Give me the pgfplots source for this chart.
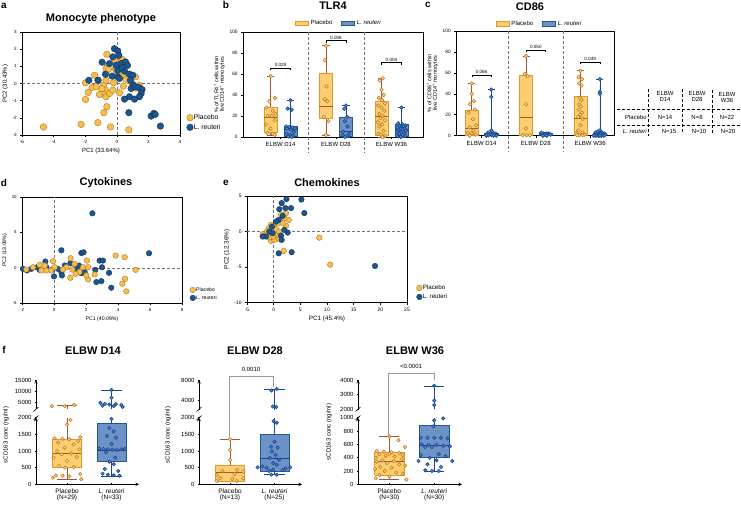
\documentclass[border=0pt]{standalone}
\usepackage{fontspec}
\setmainfont{Liberation Sans}
\usepackage{pgfplots}
\pgfplotsset{compat=1.18}
\usepgfplotslibrary{statistics}

\newcommand{\fs}[1]{\fontsize{#1}{#1}\selectfont}

% scatter colours
\definecolor{scO}{RGB}{247,190,75}
\definecolor{scOd}{RGB}{165,115,35}
\definecolor{scB}{RGB}{30,85,140}
\definecolor{scBd}{RGB}{15,45,85}
% box plot colours
\definecolor{pFill}{RGB}{252,206,112}
\definecolor{pEdge}{RGB}{226,152,48}
\definecolor{pWh}{RGB}{160,90,55}
\definecolor{pPt}{RGB}{200,122,25}
\definecolor{pPtF}{RGB}{253,222,150}
\definecolor{rFill}{RGB}{108,146,198}
\definecolor{rEdge}{RGB}{35,85,150}
\definecolor{rWh}{RGB}{25,70,150}
\definecolor{rPt}{RGB}{22,70,145}
\definecolor{rPtF}{RGB}{85,135,195}

\pgfplotsset{
  gp/.style={scale only axis, tick align=outside, tick pos=left,
    major tick length=1.8pt, axis line style={line width=0.55pt},
    every tick/.style={line width=0.55pt, black},
    /pgf/number format/assume math mode=true,
    /pgf/number format/1000 sep={},
    scaled y ticks=false, scaled x ticks=false,
    tick label style={font=\fs{4.6}}, label style={font=\fs{6}},
    xlabel style={inner sep=1pt}, ylabel style={inner sep=1pt}},
  pca/.style={gp, legend cell align=left,
    legend style={draw=none, fill=none, row sep=2pt,
      nodes={inner sep=0.6pt}}},
  zl/.style={densely dashed, black!55, line width=0.4pt, forget plot},
  dotP/.style={only marks, mark=*, mark size=#1, draw=scOd, fill=scO, line width=0.35pt},
  dotB/.style={only marks, mark=*, mark size=#1, draw=scBd, fill=scB, line width=0.35pt},
  pbx/.style={forget plot, draw=pEdge, fill=pFill, line width=0.6pt,
    boxplot/every whisker/.style={draw=pWh, line width=0.6pt},
    boxplot/every median/.style={draw=pWh, line width=0.6pt}},
  rbx/.style={forget plot, draw=rEdge, fill=rFill, line width=0.6pt,
    boxplot/every whisker/.style={draw=rWh, line width=0.6pt},
    boxplot/every median/.style={draw=rWh, line width=0.6pt}},
  pdot/.style={forget plot, only marks, mark=*, mark size=#1, draw=pPt, fill=pPtF, line width=0.6pt},
  rdot/.style={forget plot, only marks, mark=*, mark size=#1, draw=rPt, fill=rPtF, line width=0.6pt},
  pln/.style={forget plot, draw=pWh, line width=0.6pt, mark=none},
  rln/.style={forget plot, draw=rWh, line width=0.6pt, mark=none},
  parea/.style={forget plot, draw=pEdge, fill=pFill, line width=0.6pt, mark=none},
  rarea/.style={forget plot, draw=rEdge, fill=rFill, line width=0.6pt, mark=none},
  grp/.style={gp, clip=false, xtick={1,2,3}, ytick={0,20,...,100}, ymin=0, ymax=100,
    xticklabels={ELBW D14, ELBW D28, ELBW W36},
    xticklabel style={font=\fs{6}},
    ylabel style={align=center, font=\fs{5.5}},
    boxplot/draw direction=y,
    boxplot/box extend=0.24, boxplot/whisker extend=0.13,
    legend columns=2,
    legend style={draw=none, fill=none, font=\fs{6},
      /tikz/every even column/.append style={column sep=7pt}}},
  brk/.style={gp, xmin=0.303, xmax=2.618,
    axis line style={-, line width=0.6pt},
    tick label style={font=\fs{6}}},
  brklow/.style={brk, axis x line=bottom, axis y line=left, xtick={1,2},
    xticklabel style={align=center, font=\fs{6.5}}},
  brkup/.style={brk, axis x line=none, axis y line=left}
}

\newcommand{\bx}[7]{\addplot[#1, boxplot prepared={draw position=#2,
  lower whisker=#3, lower quartile=#4, median=#5, upper quartile=#6,
  upper whisker=#7}] coordinates {};}

\newcommand{\boxicon}[2]{\addlegendimage{legend image code/.code={%
  \draw[#1, fill=#2, line width=0.6pt] (0pt,-2.2pt) rectangle (13pt,2.2pt);}}}

\begin{document}
\begin{tikzpicture}
\path[use as bounding box] (0,0) rectangle (741pt,-509pt);

% ---------- panel letters and titles
\node[font=\bfseries\fs{10}] at (4pt,-6pt) {a};
\node[font=\bfseries\fs{10}] at (226pt,-5pt) {b};
\node[font=\bfseries\fs{10}] at (428pt,-5pt) {c};
\node[font=\bfseries\fs{10}] at (4pt,-183pt) {d};
\node[font=\bfseries\fs{10}] at (226pt,-183pt) {e};
\node[font=\bfseries\fs{10}] at (4pt,-350pt) {f};
\node[font=\bfseries\fs{11}] at (101pt,-19pt) {Monocyte phenotype};
\node[font=\bfseries\fs{11}] at (333pt,-6pt) {TLR4};
\node[font=\bfseries\fs{11}] at (530pt,-7pt) {CD86};
\node[font=\bfseries\fs{11}] at (106pt,-183pt) {Cytokines};
\node[font=\bfseries\fs{11}] at (327pt,-183pt) {Chemokines};
\node[font=\bfseries\fs{11}] at (93pt,-351pt) {ELBW D14};
\node[font=\bfseries\fs{11}] at (255pt,-351pt) {ELBW D28};
\node[font=\bfseries\fs{11}] at (415pt,-351pt) {ELBW W36};

% ---------- a: monocyte phenotype PCA
\begin{axis}[pca, at={(22pt,-135pt)}, anchor=south west, width=158pt, height=103pt,
  xmin=-6, xmax=4, ymin=-3, ymax=3, xtick={-6,-4,...,4}, ytick={-3,-2,...,3},
  xlabel={PC1 (33.64\%)}, ylabel={PC2 (30.43\%)},
  legend style={at={(1.022,0.121)}, anchor=west, font=\fs{6.8}}]
\addplot[zl] coordinates {(-6,0) (4,0)};
\addplot[zl] coordinates {(0,-3) (0,3)};
\addplot[dotP=3.3pt] coordinates {
(-4.64,-2.53) (-2.26,-2.38) (-1.20,-2.28) (-0.40,-2.53) (0.76,-2.70)
(-0.82,-1.70) (-0.63,-1.35) (-1.98,-0.93) (-1.81,-0.52) (-1.98,0.04)
(-1.41,0.48) (-1.20,0.19) (-1.56,-0.23) (-1.31,-0.19) (-0.84,-0.10)
(-0.72,-0.39) (-0.84,-0.62) (-0.68,-0.77) (-0.46,-0.58) (-1.10,-0.64)
(-0.25,-0.39) (-0.68,0.19) (-0.21,0.04) (0.17,-0.54) (-0.63,1.70)
(-0.57,1.06) (-0.15,1.39) (-0.08,0.87) (-0.68,0.87) (-0.53,0.83)
(0.21,1.26) (0.32,1.41) (0.44,1.20) (0.50,1.15) (0.38,0.54)
(0.59,0.25) (0.42,-0.15) (1.18,0.39) (0.97,0.00) (1.22,-0.27)
(1.43,-0.10) (-0.04,0.77) (-0.95,-0.30)};
\addlegendentry{Placebo}
\addplot[dotB=3.3pt] coordinates {
(-0.15,2.03) (0.06,1.90) (0.13,1.64) (-0.25,1.55) (-0.93,1.24)
(-0.46,1.16) (-0.04,1.06) (0.27,1.16) (0.55,1.26) (0.68,1.06)
(0.06,0.77) (-0.72,0.54) (-0.30,0.43) (0.06,0.39) (0.49,0.72)
(-1.77,0.19) (-1.18,0.19) (0.80,0.54) (1.01,0.48) (0.86,0.19)
(1.05,-0.10) (0.91,-0.29) (1.18,-0.19) (1.39,-0.23) (1.60,-0.35)
(1.54,-0.58) (1.43,-0.77) (1.12,-0.91) (0.80,-0.77) (0.49,-0.91)
(0.76,-1.70) (2.17,-1.90) (2.34,-1.74) (2.43,-1.80) (2.76,-2.48)
(0.34,0.93) (0.17,0.29)};
\addlegendentry{L. reuteri}
\end{axis}

% ---------- b: TLR4
\begin{axis}[grp, at={(243pt,-137pt)}, anchor=south west, width=180pt, height=105pt,
  xmin=0.324, xmax=3.568, tick label style={font=\fs{4.8}},
  ylabel={\% of TLR4\textsuperscript{+} cells within\\live CD14\textsuperscript{+} monocytes},
  legend style={at={(0.533,1.085)}, anchor=center}]
\boxicon{pEdge}{pFill}\addlegendentry{Placebo}
\boxicon{rEdge}{rFill}\addlegendentry{\textit{L. reuteri}}
\draw[densely dashed, black!55, line width=0.4pt] (axis cs:1.5,100) -- (axis cs:1.5,-15);
\draw[densely dashed, black!55, line width=0.4pt] (axis cs:2.5,100) -- (axis cs:2.5,-15);
\bx{pbx}{0.82}{2}{4.8}{18.5}{28}{58}
\addplot[pdot=1.8pt] coordinates {(0.82,58) (0.90,37) (0.80,34) (0.75,28) (0.86,25) (0.91,22) (0.77,20)
 (0.84,20) (0.90,16) (0.74,12) (0.82,8) (0.76,4) (0.86,3) (0.90,2)};
\bx{rbx}{1.18}{0}{1}{7}{10}{35}
\addplot[rdot=1.8pt] coordinates {(1.18,35) (1.13,27) (1.20,26) (1.10,10) (1.16,9.5) (1.22,9) (1.26,8.5)
 (1.12,8) (1.19,7) (1.24,5) (1.11,3) (1.17,2) (1.23,1) (1.14,0.5) (1.20,0)};
\bx{pbx}{1.82}{2}{17.6}{28.8}{60.7}{87}
\addplot[pdot=1.8pt] coordinates {(1.82,87) (1.80,73) (1.83,48) (1.80,36) (1.84,34) (1.78,19) (1.86,15) (1.82,2)};
\bx{rbx}{2.18}{0}{0.5}{5}{18.5}{30}
\addplot[rdot=1.8pt] coordinates {(2.18,30) (2.15,27) (2.20,19) (2.16,15) (2.21,10) (2.13,5) (2.24,3)
 (2.12,2) (2.20,1) (2.16,0)};
\bx{pbx}{2.82}{0}{2}{19.5}{34}{56}
\addplot[pdot=1.8pt] coordinates {(2.84,56) (2.79,54) (2.82,45) (2.86,40) (2.77,37) (2.83,35) (2.88,32)
 (2.76,30) (2.82,28) (2.87,25) (2.78,22) (2.84,20) (2.80,18) (2.88,16) (2.75,14) (2.83,12) (2.78,10)
 (2.86,6) (2.76,3) (2.81,2) (2.89,1) (2.84,0)};
\bx{rbx}{3.18}{0}{0.5}{7}{12.4}{28}
\addplot[rdot=1.8pt] coordinates {(3.18,28) (3.12,13) (3.20,12) (3.25,11) (3.15,10) (3.22,10) (3.10,9)
 (3.17,8) (3.24,8) (3.13,7) (3.20,7) (3.26,6) (3.11,5) (3.18,4) (3.23,3) (3.14,3) (3.20,2) (3.10,1)
 (3.25,1) (3.17,0)};
\draw[line width=0.4pt] (axis cs:0.82,64) -- (axis cs:0.82,66) -- (axis cs:1.18,66) -- (axis cs:1.18,64);
\node[font=\fs{4.6}, above, inner sep=0.8pt] at (axis cs:1,66) {0.029};
\draw[line width=0.4pt] (axis cs:1.82,90) -- (axis cs:1.82,92) -- (axis cs:2.18,92) -- (axis cs:2.18,90);
\node[font=\fs{4.6}, above, inner sep=0.8pt] at (axis cs:2,92) {0.006};
\draw[line width=0.4pt] (axis cs:2.82,69) -- (axis cs:2.82,71) -- (axis cs:3.18,71) -- (axis cs:3.18,69);
\node[font=\fs{4.6}, above, inner sep=0.8pt] at (axis cs:3,71) {0.004};
\end{axis}

% ---------- c: CD86
\begin{axis}[grp, at={(456pt,-135.7pt)}, anchor=south west, width=158pt, height=104.7pt,
  xmin=0.53, xmax=3.44, tick label style={font=\fs{4.8}},
  ylabel={\% of CD86\textsuperscript{+} cells within\\live CD14\textsuperscript{+} monocytes},
  legend style={at={(0.53,1.07)}, anchor=center}]
\boxicon{pEdge}{pFill}\addlegendentry{Placebo}
\boxicon{rEdge}{rFill}\addlegendentry{\textit{L. reuteri}}
\draw[densely dashed, black!55, line width=0.4pt] (axis cs:1.5,100) -- (axis cs:1.5,-15);
\draw[densely dashed, black!55, line width=0.4pt] (axis cs:2.5,100) -- (axis cs:2.5,-15);
\bx{pbx}{0.82}{0}{0.5}{7}{24.5}{50}
\addplot[pdot=1.8pt] coordinates {(0.82,50) (0.82,40) (0.86,33) (0.79,30) (0.88,25) (0.76,22) (0.84,16)
 (0.90,10) (0.78,8) (0.85,5) (0.75,3) (0.82,2) (0.89,1) (0.78,0)};
\bx{rbx}{1.18}{0}{0}{1}{2}{44}
\addplot[rdot=1.8pt] coordinates {(1.18,44) (1.18,37) (1.18,5) (1.12,3) (1.22,2.5) (1.26,2) (1.10,1.5)
 (1.16,1.5) (1.20,1) (1.24,1) (1.13,0.5) (1.19,0.5) (1.27,0) (1.09,0) (1.22,0)};
\bx{pbx}{1.82}{0}{0}{18}{58}{76}
\addplot[pdot=1.8pt] coordinates {(1.82,76) (1.80,59) (1.85,57) (1.82,30) (1.82,7) (1.76,0.5) (1.83,0.5) (1.89,0.5)};
\bx{rbx}{2.18}{0}{0.5}{1}{2}{3}
\addplot[rdot=1.8pt] coordinates {(2.10,3) (2.14,2) (2.19,2) (2.24,2) (2.12,1) (2.17,1) (2.22,1) (2.27,1)
 (2.13,0) (2.20,0)};
\bx{pbx}{2.82}{0}{0.5}{16.6}{37.3}{62}
\addplot[pdot=1.8pt] coordinates {(2.82,62) (2.79,56) (2.85,54) (2.80,50) (2.84,48) (2.81,36) (2.84,34)
 (2.80,30) (2.83,28) (2.79,25) (2.85,22) (2.82,20) (2.78,18) (2.86,16) (2.82,10) (2.78,5) (2.86,3)
 (2.74,2) (2.90,1) (2.80,0.5) (2.86,0.5) (2.76,0.5)};
\bx{rbx}{3.18}{0}{0}{1}{2}{54}
\addplot[rdot=1.8pt] coordinates {(3.18,54) (3.18,42) (3.18,40) (3.18,5) (3.14,4) (3.22,3) (3.10,3)
 (3.26,2) (3.16,2) (3.20,2) (3.12,1) (3.24,1) (3.08,1) (3.28,1) (3.15,0) (3.21,0) (3.11,0) (3.25,0)
 (3.18,0) (3.07,0)};
\draw[line width=0.4pt] (axis cs:0.82,56) -- (axis cs:0.82,58) -- (axis cs:1.18,58) -- (axis cs:1.18,56);
\node[font=\fs{4.6}, above, inner sep=0.8pt] at (axis cs:1,58) {0.066};
\draw[line width=0.4pt] (axis cs:1.82,80) -- (axis cs:1.82,82) -- (axis cs:2.18,82) -- (axis cs:2.18,80);
\node[font=\fs{4.6}, above, inner sep=0.8pt] at (axis cs:2,82) {0.050};
\draw[line width=0.4pt] (axis cs:2.82,68.6) -- (axis cs:2.82,70.6) -- (axis cs:3.18,70.6) -- (axis cs:3.18,68.6);
\node[font=\fs{4.6}, above, inner sep=0.8pt] at (axis cs:3,70.6) {0.049};
\end{axis}

% ---------- sample size table
\begin{scope}[font=\fs{6}]
\draw[densely dashed, line width=0.4pt] (617pt,-109pt) -- (741pt,-109pt);
\draw[densely dashed, line width=0.4pt] (617pt,-124.7pt) -- (741pt,-124.7pt);
\draw[densely dashed, line width=0.4pt] (648pt,-89pt) -- (648pt,-136pt);
\draw[densely dashed, line width=0.4pt] (682pt,-89pt) -- (682pt,-134pt);
\draw[densely dashed, line width=0.4pt] (712pt,-90pt) -- (712pt,-134pt);
\node[align=center, inner sep=0pt] at (665pt,-96.5pt) {ELBW\\D14};
\node[align=center, inner sep=0pt] at (697pt,-96.5pt) {ELBW\\D28};
\node[align=center, inner sep=0pt] at (727pt,-97pt) {ELBW\\W36};
\node[anchor=east, inner sep=0pt] at (647pt,-117pt) {Placebo};
\node[anchor=east, inner sep=0pt] at (647pt,-131pt) {\textit{L. reuteri}};
\node[inner sep=0pt] at (665pt,-117pt) {N=14};
\node[inner sep=0pt] at (697pt,-117pt) {N=8};
\node[inner sep=0pt] at (727pt,-117pt) {N=22};
\node[inner sep=0pt] at (669pt,-131pt) {N=15};
\node[inner sep=0pt] at (699pt,-131pt) {N=10};
\node[inner sep=0pt] at (728pt,-131pt) {N=20};
\end{scope}

% ---------- d: cytokines PCA
\begin{axis}[pca, at={(22pt,-303.3pt)}, anchor=south west, width=160pt, height=106.3pt,
  xmin=-2, xmax=8, ymin=-5, ymax=10, xtick={-2,0,...,8}, ytick={-5,0,5,10},
  tick label style={font=\fs{4.4}}, label style={font=\fs{5.2}},
  xlabel={PC1 (40.09\%)}, ylabel={PC2 (13.08\%)},
  legend style={at={(1.03,0.088)}, anchor=west, font=\fs{5.2}, row sep=1.5pt}]
\addplot[zl] coordinates {(-2,0) (8,0)};
\addplot[zl] coordinates {(0,-5) (0,10)};
\addplot[dotB=2.8pt, forget plot] coordinates {
(2.40,7.70) (0.46,2.48) (1.71,2.10) (1.85,2.20) (5.94,2.06) (2.85,1.03) (3.06,1.03)
(-0.54,0.89) (3.00,0.09) (3.44,-0.70) (2.58,-0.28) (2.65,-2.00) (2.96,-1.87) (3.58,-2.80)
(1.71,-0.75) (1.56,0.33) (1.02,0.65) (0.67,0.33) (0.46,-0.60) (0.50,-1.07) (0.00,-1.20)
(-0.10,-0.23) (-0.90,-0.28) (-1.06,0.09) (-1.42,-0.14) (-1.69,-0.37) (-1.94,-0.14)
(1.31,-0.14) (1.92,-0.60) (-0.48,0.09) (0.25,-0.14)};
\addplot[dotP=2.8pt] coordinates {
(3.85,1.73) (4.42,1.50) (5.10,-0.28) (4.44,-1.54) (4.27,-2.24) (4.52,-3.32) (2.06,1.03)
(2.13,0.09) (2.54,-0.93) (2.13,-1.64) (2.02,-1.07) (1.04,1.36) (1.29,0.56) (1.60,-0.60)
(1.02,-1.40) (1.35,-0.84) (0.77,0.09) (0.56,-0.23) (1.15,-0.23) (1.81,0.09) (-0.06,0.93)
(-0.17,-0.37) (-0.48,-0.37) (-0.90,0.42) (-1.31,0.09) (-1.73,-0.23) (-0.79,-0.37)
(0.04,0.09) (-0.58,0.33)};
\addlegendentry{Placebo}
\addlegendimage{dotB=2.8pt}
\addlegendentry{L. reuteri}
\end{axis}

% ---------- e: chemokines PCA
\begin{axis}[pca, at={(247pt,-302.7pt)}, anchor=south west, width=160pt, height=106.7pt,
  xmin=-5, xmax=25, ymin=-10, ymax=5, xtick={-5,0,...,25}, ytick={-10,-5,0,5},
  tick label style={font=\fs{5}}, label style={font=\fs{6.3}},
  xlabel={PC1 (45.4\%)}, ylabel={PC2 (12.36\%)},
  legend style={at={(1.04,0.096)}, anchor=west, font=\fs{6.2}, row sep=1.8pt}]
\addplot[zl] coordinates {(-5,0) (25,0)};
\addplot[zl] coordinates {(0,-10) (0,5)};
\addplot[dotP=2.8pt] coordinates {
(8.56,-0.85) (10.60,-4.65) (1.88,-2.72) (2.81,1.64) (2.31,0.80) (2.31,2.58) (1.38,2.35)
(0.75,1.17) (0.12,0.80) (0.44,0.33) (-0.50,0.94) (-0.94,0.47) (-1.56,-0.23) (-1.12,-0.61)
(-0.50,-1.31) (0.12,-1.17) (0.44,-0.47) (1.06,-1.08) (-0.31,-0.23) (-2.06,-0.38)
(-0.81,-0.80) (-0.06,-0.70) (1.06,0.00) (-0.50,0.23) (1.69,1.17) (2.00,1.88)
(-1.25,0.00) (-1.75,-0.61)};
\addlegendentry{Placebo}
\addplot[dotB=2.8pt] coordinates {
(2.40,4.56) (5.20,4.50) (1.50,4.00) (5.75,2.60) (3.25,3.30) (2.20,3.30) (1.06,3.15)
(1.69,2.20) (0.94,1.64) (2.63,-0.14) (1.38,-0.56) (1.50,-1.17) (0.94,-3.05) (3.38,-2.90)
(19.00,-4.84) (-0.81,0.00) (-1.44,-0.70) (-2.06,-0.70) (-0.31,0.70) (0.44,1.40)
(-0.19,-0.23) (2.00,0.23)};
\addlegendentry{L. reuteri}
\end{axis}

% ---------- f: sCD163, broken y axes (each segment holds only its own range)
% D14, 0-2000
\begin{axis}[brklow, at={(36pt,-484.3pt)}, anchor=south west, width=103pt, height=66.6pt,
  ymin=0, ymax=2000, ytick={0,500,...,2000},
  xticklabels={{Placebo\\(N=29)},{\textit{L. reuteri}\\(N=33)}}]
\addplot[pln] coordinates {(1,150) (1,500)};
\addplot[pln] coordinates {(0.775,150) (1.225,150)};
\addplot[pln] coordinates {(1,1360) (1,2000)};
\addplot[parea] coordinates {(0.675,500) (1.325,500) (1.325,1360) (0.675,1360) (0.675,500)};
\addplot[pln] coordinates {(0.675,930) (1.325,930)};
\addplot[pdot=1.7pt] coordinates {(1.08,1930) (1.00,1800) (1.30,1420) (0.72,1380) (0.90,1370)
 (1.05,1350) (1.25,1300) (0.80,1250) (1.15,1200) (0.95,1100) (1.28,1050) (0.78,1000) (1.10,930)
 (0.88,900) (1.22,820) (0.70,800) (1.00,700) (0.82,550) (1.15,520) (0.95,500) (1.30,310)
 (0.75,270) (0.90,260) (1.05,240) (0.68,200) (1.32,150)};
\addplot[rln] coordinates {(2,250) (2,680)};
\addplot[rln] coordinates {(1.775,250) (2.225,250)};
\addplot[rln] coordinates {(2,1830) (2,2000)};
\addplot[rarea] coordinates {(1.675,680) (2.325,680) (2.325,1830) (1.675,1830) (1.675,680)};
\addplot[rln] coordinates {(1.675,1030) (2.325,1030)};
\addplot[rdot=1.7pt] coordinates {(2.00,1960) (1.95,1690) (2.05,1590) (1.90,1450) (2.10,1400)
 (2.00,1210) (1.72,1080) (1.82,1060) (1.92,1050) (2.02,1040) (2.12,1030) (2.22,1050) (2.30,1060)
 (1.88,960) (2.08,800) (1.95,680) (2.05,600) (1.85,460) (2.15,400) (1.80,320) (1.92,290)
 (2.05,270) (2.18,260)};
\end{axis}
% D14, 2000-15000
\begin{axis}[brkup, at={(36pt,-409pt)}, anchor=south west, width=103pt, height=29pt,
  ymin=2000, ymax=15000, ytick={5000,10000,15000}]
\addplot[pln] coordinates {(1,2000) (1,3800)};
\addplot[pln] coordinates {(0.775,3800) (1.225,3800)};
\addplot[pdot=1.7pt] coordinates {(0.66,3300) (0.95,3300) (1.16,3800)};
\addplot[rln] coordinates {(2,2000) (2,10500)};
\addplot[rln] coordinates {(1.775,10500) (2.225,10500)};
\addplot[rdot=1.7pt] coordinates {(2.00,10500) (2.00,7000) (1.75,4700) (1.85,4300) (2.10,4200)
 (1.95,4000) (2.22,3800) (1.80,3500) (2.05,3300) (2.25,3000)};
\end{axis}

% D28, 0-2000
\begin{axis}[brklow, at={(199pt,-484.3pt)}, anchor=south west, width=103pt, height=66.6pt,
  ymin=0, ymax=2000, ytick={0,500,...,2000},
  xticklabels={{Placebo\\(N=13)},{\textit{L. reuteri}\\(N=25)}}]
\addplot[pln] coordinates {(0.775,100) (1.225,100)};
\addplot[pln] coordinates {(1,560) (1,1350)};
\addplot[pln] coordinates {(0.775,1350) (1.225,1350)};
\addplot[parea] coordinates {(0.675,100) (1.325,100) (1.325,560) (0.675,560) (0.675,100)};
\addplot[pln] coordinates {(0.675,360) (1.325,360)};
\addplot[pdot=1.7pt] coordinates {(1.00,1350) (1.00,1030) (1.00,730) (1.16,430) (0.83,400) (1.30,380)
 (0.70,280) (1.10,310) (0.78,180) (1.05,160) (1.30,180) (0.70,100) (1.15,100)};
\addplot[rln] coordinates {(2,290) (2,400)};
\addplot[rln] coordinates {(1.775,290) (2.225,290)};
\addplot[rln] coordinates {(2,1510) (2,2000)};
\addplot[rarea] coordinates {(1.675,400) (2.325,400) (2.325,1510) (1.675,1510) (1.675,400)};
\addplot[rln] coordinates {(1.675,780) (2.325,780)};
\addplot[rdot=1.7pt] coordinates {(1.98,1900) (2.05,1850) (2.00,1280) (1.92,1130) (2.07,1100)
 (1.94,980) (2.02,880) (1.90,790) (2.10,740) (1.97,640) (2.05,590) (1.72,540) (1.62,510)
 (1.82,500) (2.25,480) (2.35,510) (1.97,440) (2.18,430) (1.88,400) (1.93,290) (2.05,290)};
\end{axis}
% D28, 2000-8000
\begin{axis}[brkup, at={(199pt,-410pt)}, anchor=south west, width=103pt, height=30pt,
  ymin=2000, ymax=8000, ytick={4000,8000}]
\addplot[rln] coordinates {(2,2000) (2,6200)};
\addplot[rln] coordinates {(1.775,6200) (2.225,6200)};
\addplot[rdot=1.7pt] coordinates {(2.05,6200) (1.93,5900) (1.96,2700) (2.04,2600)};
\end{axis}

% W36, 0-1000
\begin{axis}[brklow, at={(358pt,-484.3pt)}, anchor=south west, width=104pt, height=66.6pt,
  ymin=0, ymax=1000, ytick={0,200,...,1000},
  xticklabels={{Placebo\\(N=30)},{\textit{L. reuteri}\\(N=30)}}]
\addplot[pln] coordinates {(1,70) (1,140)};
\addplot[pln] coordinates {(0.775,70) (1.225,70)};
\addplot[pln] coordinates {(1,480) (1,720)};
\addplot[pln] coordinates {(0.775,720) (1.225,720)};
\addplot[parea] coordinates {(0.675,140) (1.325,140) (1.325,480) (0.675,480) (0.675,140)};
\addplot[pln] coordinates {(0.675,340) (1.325,340)};
\addplot[pdot=1.7pt] coordinates {(1.00,720) (1.20,660) (1.35,560) (0.72,500) (0.88,490) (1.05,480)
 (1.22,470) (1.00,460) (0.78,450) (1.30,440) (0.92,430) (1.12,420) (0.70,400) (1.28,380)
 (0.85,360) (1.10,350) (0.72,340) (0.95,320) (1.22,300) (1.35,280) (0.80,260) (1.05,250)
 (0.68,230) (0.90,200) (1.15,180) (1.30,160) (0.78,140) (1.00,120) (0.70,90) (1.38,70)};
\addplot[rln] coordinates {(2,200) (2,400)};
\addplot[rln] coordinates {(1.775,200) (2.225,200)};
\addplot[rln] coordinates {(2,880) (2,1000)};
\addplot[rarea] coordinates {(1.675,400) (2.325,400) (2.325,880) (1.675,880) (1.675,400)};
\addplot[rln] coordinates {(1.675,590) (2.325,590)};
\addplot[rdot=1.7pt] coordinates {(2.00,960) (2.20,990) (1.98,870) (1.70,700) (1.85,700) (2.00,700)
 (2.15,700) (2.30,690) (1.72,600) (1.88,590) (2.05,590) (2.20,580) (2.35,570) (1.80,560)
 (1.95,560) (2.10,450) (1.70,440) (2.25,420) (1.90,400) (2.05,360) (1.65,350) (2.40,350)
 (1.85,300) (2.15,260) (1.80,210) (1.95,200) (2.10,200)};
\end{axis}
% W36, 2000-4000
\begin{axis}[brkup, at={(358pt,-409.3pt)}, anchor=south west, width=104pt, height=29.3pt,
  ymin=2000, ymax=4000, ytick={2000,3000,4000}]
\addplot[rln] coordinates {(2,2000) (2,3600)};
\addplot[rln] coordinates {(1.775,3600) (2.225,3600)};
\addplot[rdot=1.7pt] coordinates {(2.00,3600) (2.00,2600) (2.00,2300)};
\end{axis}

% y labels, axis breaks and comparison brackets of f
\begin{scope}[font=\fs{6}]
\node[rotate=90] at (6pt,-435pt) {sCD163 conc (ng/ml)};
\node[rotate=90] at (168pt,-435pt) {sCD163 conc (ng/ml)};
\node[rotate=90] at (329pt,-432pt) {sCD163 conc (ng/ml)};
\end{scope}
\foreach \xa in {36,199,358}{
  \draw[line width=0.6pt] (\xa pt-2.5pt,-411.5pt) -- (\xa pt+2.5pt,-407pt);
  \draw[line width=0.6pt] (\xa pt-2.5pt,-420pt) -- (\xa pt+2.5pt,-415.5pt);
}
\draw[black!40, line width=0.8pt] (229pt,-437pt) -- (229pt,-376pt) -- (273pt,-376pt) -- (273pt,-386.5pt);
\node[font=\fs{6}] at (251pt,-369pt) {0.0010};
\draw[black!40, line width=0.8pt] (388.5pt,-436.5pt) -- (388.5pt,-373.3pt) -- (434pt,-373.3pt) -- (434pt,-380pt);
\node[font=\fs{6}] at (411pt,-366pt) {<0.0001};
\end{tikzpicture}
\end{document}
